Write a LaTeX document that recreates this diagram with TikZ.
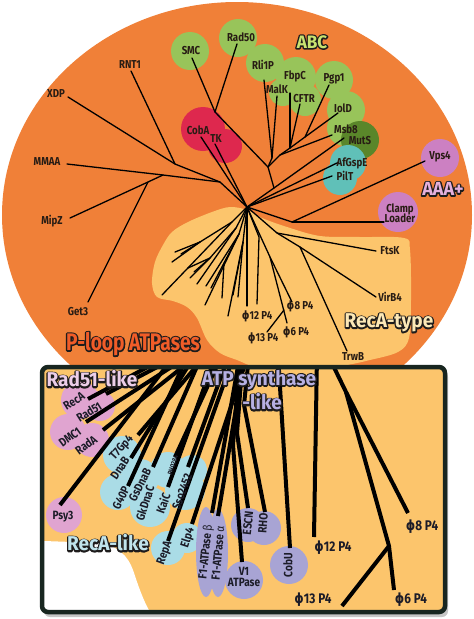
\documentclass[tikz,border=0pt]{standalone}
\usepackage{fontspec}
\setmainfont{Fira Sans}[FakeStretch=0.84]
\newfontfamily\titlef{Fira Sans}[FakeStretch=0.95]
\newfontfamily\titlec{Fira Sans}[FakeStretch=0.8]
\newfontfamily\phif{DejaVu Sans}[FakeStretch=0.85]
\definecolor{orng}{RGB}{240,128,56}
\definecolor{lor}{RGB}{252,197,108}
\definecolor{grn}{RGB}{152,196,90}
\definecolor{dgrn}{RGB}{90,134,42}
\definecolor{tealc}{RGB}{96,192,184}
\definecolor{redc}{RGB}{222,40,78}
\definecolor{pkc}{RGB}{204,128,194}
\definecolor{pkl}{RGB}{224,164,208}
\definecolor{blc}{RGB}{170,220,230}
\definecolor{lvc}{RGB}{168,164,212}
\definecolor{boxc}{RGB}{24,38,32}
\definecolor{txt}{RGB}{40,28,20}
\definecolor{txtb}{RGB}{28,28,40}
\definecolor{outc}{RGB}{30,28,28}
\definecolor{abcf}{RGB}{200,226,112}
\definecolor{aaaf}{RGB}{228,176,220}
\definecolor{recf}{RGB}{252,232,182}
\definecolor{plf}{RGB}{240,92,40}
\definecolor{radf}{RGB}{236,206,232}
\definecolor{atpf}{RGB}{182,176,226}
\definecolor{relf}{RGB}{192,228,236}
\tikzset{
  lab/.style={font=\bfseries\fontsize{11.5}{12}\selectfont, text=txt, inner sep=0.5pt},
  blab/.style={font=\bfseries\fontsize{12}{12}\selectfont, text=txtb, inner sep=0.5pt},
  plab/.style={font=\bfseries\fontsize{14}{14}\selectfont, text=txtb, inner sep=0.5pt},
  tl/.style={draw=black, line width=1.3pt, line cap=round, line join=round},
  thk/.style={draw=black, line width=4pt, line join=round},
}
\newcommand{\strkon}{\special{pdf:literal direct 1 Tr 2.8 w 1 j}}
\newcommand{\strkoff}{\special{pdf:literal direct 0 Tr}}
% name, position, fill, size, family, text
\newcommand{\ttl}[6]{%
  \node[font=#5\bfseries\fontsize{#4}{#4}\selectfont, text=outc, inner sep=0] at (#2) {\strkon#6\strkoff};
  \node[font=#5\bfseries\fontsize{#4}{#4}\selectfont, text=#3, inner sep=0] (#1) at (#2) {#6};
}
\begin{document}
\begin{tikzpicture}[x=1pt,y=-1pt]
\useasboundingbox (0,0) rectangle (474,619);
\fill[white] (0,0) rectangle (474,619);
% big orange disc
\fill[orng] (237,215) ellipse [x radius=235, y radius=213];
% RecA-type light region
\fill[lor] plot[smooth cycle, tension=0.55] coordinates {(230,207) (247,210) (262,218) (287,227) (320,236) (360,237) (404,238) (410,250) (411,300) (409,338) (398,352) (370,360) (340,366) (300,368) (260,368) (237,360) (220,353) (207,340) (197,318) (187,307) (173,301) (157,297) (152,283) (155,262) (163,245) (172,232) (188,222) (212,212)};
% coloured discs (upper)
\fill[grn] (190,51) circle[radius=19];
\fill[grn] (238,38) circle[radius=19];
\fill[grn] (265,63) circle[radius=19];
\fill[grn] (296,77) circle[radius=20];
\fill[grn] (283,92) circle[radius=14];
\fill[grn] (305,100) circle[radius=16];
\fill[grn] (334,80) circle[radius=19];
\fill[grn] (346,110) circle[radius=19];
\fill[grn] (345,128) circle[radius=18];
\fill[dgrn] (360,140) circle[radius=19];
\fill[tealc] (348,163) circle[radius=18];
\fill[tealc] (340,178) circle[radius=17];
\fill[redc] (203,129) circle[radius=22];
\fill[redc] (225,146) circle[radius=17];
\fill[pkc] (440,158) circle[radius=19];
\fill[pkc] (398,212) circle[radius=20];
% tree coordinates (upper)
\coordinate (O) at (247,207);
\coordinate (J1) at (220,182);
\coordinate (C) at (163,175);
\coordinate (Cg) at (148,182);
\coordinate (B) at (175,164);
\coordinate (S) at (215,112);
\coordinate (M) at (272,158);
\coordinate (G1) at (268,167);
\coordinate (G2) at (274,188);
\coordinate (N2) at (290,148);
\coordinate (N2b) at (280,155);
\coordinate (N3) at (305,137);
\coordinate (V) at (292,222);
\coordinate (F) at (277,233);
\coordinate (Q) at (300,247);
\coordinate (P) at (270,257);
\coordinate (PB) at (284,310);
\coordinate (K12) at (259,237);
\coordinate (H1) at (232,222);
\coordinate (H2) at (200,242);
\coordinate (H3) at (236,228);
\coordinate (H4) at (210,258);
\coordinate (H5) at (239,234);
\coordinate (H6) at (224,263);
\coordinate (H7) at (243,242);
\coordinate (eMMAA) at (67,164);
\coordinate (eMipZ) at (70,218);
\coordinate (eGet3) at (88,302);
\coordinate (eXDP) at (68,97);
\coordinate (eRNT1) at (131,71);
\coordinate (eCobA) at (201,137);
\coordinate (eTK) at (215,144);
\coordinate (eSMC) at (192,58);
\coordinate (eRad50) at (237,44);
\coordinate (eRli) at (264,80);
\coordinate (eMalK) at (277,96);
\coordinate (eFbpC) at (290,93);
\coordinate (eCFTR) at (300,104);
\coordinate (ePgp1) at (329,85);
\coordinate (eIolD) at (338,113);
\coordinate (eMsb8) at (332,135);
\coordinate (eMutS) at (344,138);
\coordinate (eAfG) at (339,162);
\coordinate (ePilT) at (332,176);
\coordinate (eVps4) at (425,161);
\coordinate (eClamp) at (384,222);
\coordinate (eFtsK) at (376,251);
\coordinate (eVirB4) at (376,297);
\coordinate (eTrwB) at (347,351);
\coordinate (ephi8) at (292,302);
\coordinate (ephi6) at (287,323);
\coordinate (ephi13) at (267,332);
\coordinate (ephi12a) at (247,306);
\coordinate (ephi12b) at (257,304);
\coordinate (e1) at (162,295);
\coordinate (e2) at (172,262);
\coordinate (e3) at (175,252);
\coordinate (e4) at (181,254);
\coordinate (e5) at (188,268);
\coordinate (e6) at (190,278);
\coordinate (e7) at (194,272);
\coordinate (e8) at (197,284);
\coordinate (e9) at (205,305);
\coordinate (e10) at (206,286);
\coordinate (e11) at (211,288);
\coordinate (e12) at (222,298);
\coordinate (e13) at (228,316);
\coordinate (e14) at (233,295);
\coordinate (e15) at (238,297);
% upper tree
\draw[tl] (O) -- (J1) -- (C) -- (eMMAA);
\draw[tl] (C) -- (Cg) -- (eMipZ);
\draw[tl] (Cg) -- (eGet3);
\draw[tl] (J1) -- (B) -- (eXDP);
\draw[tl] (B) -- (eRNT1);
\draw[tl] (O) -- (eCobA);
\draw[tl] (O) -- (eTK);
\draw[tl] (O) -- (G2) -- (G1) -- (S) -- (eSMC);
\draw[tl] (S) -- (eRad50);
\draw[tl] (G1) -- (M) -- (eRli);
\draw[tl] (M) -- (eMalK);
\draw[tl] (G1) -- (N2b) -- (N2) -- (N3) -- (ePgp1);
\draw[tl] (N3) -- (eIolD);
\draw[tl] (N2) -- (eFbpC);
\draw[tl] (N2) -- (eCFTR);
\draw[tl] (N2b) -- (eMsb8);
\draw[tl] (G2) -- (eMutS);
\draw[tl] (O) -- (eAfG);
\draw[tl] (O) -- (ePilT);
\draw[tl] (O) -- (V) -- (eVps4);
\draw[tl] (V) -- (eClamp);
\draw[tl] (O) -- (F) -- (eFtsK);
\draw[tl] (F) -- (Q) -- (eVirB4);
\draw[tl] (Q) -- (eTrwB);
\draw[tl] (O) -- (P) -- (ephi8);
\draw[tl] (P) -- (ephi6);
\draw[tl] (PB) -- (ephi13);
\draw[tl] (O) -- (ephi12a);
\draw[tl] (O) -- (K12) -- (ephi12b);
\draw[tl] (O) -- (H1) -- (e1);
\draw[tl] (H1) -- (H2) -- (e2);
\draw[tl] (H2) -- (e3);
\draw[tl] (H2) -- (e4);
\draw[tl] (O) -- (H3) -- (H4) -- (e5);
\draw[tl] (H4) -- (e6);
\draw[tl] (H4) -- (e7);
\draw[tl] (H3) -- (e8);
\draw[tl] (O) -- (H5) -- (e9);
\draw[tl] (H5) -- (e10);
\draw[tl] (H5) -- (H6) -- (e11);
\draw[tl] (H6) -- (e12);
\draw[tl] (O) -- (H7) -- (e13);
\draw[tl] (H7) -- (e14);
\draw[tl] (H7) -- (e15);
% upper labels
\node[lab] (lSMC) at (191,51) {SMC};
\node[lab] (lRad50) at (241,37) {Rad50};
\node[lab] (lRli) at (263,65) {Rli1P};
\node[lab] (lFbpC) at (295,76) {FbpC};
\node[lab] (lMalK) at (277,89) {MalK};
\node[lab] (lCFTR) at (304,99) {CFTR};
\node[lab] (lPgp1) at (334,79) {Pgp1};
\node[lab] (lIolD) at (343,108) {IolD};
\node[lab] (lMsb8) at (346,129) {Msb8};
\node[lab] (lMutS) at (360,141) {MutS};
\node[lab] (lAfG) at (352,163) {AfGspE};
\node[lab] (lPilT) at (345,176) {PilT};
\node[lab] (lVps4) at (440,157) {Vps4};
\node[lab] (lCobA) at (198,130) {CobA};
\node[lab] (lTK) at (216,139) {TK};
\node[lab, align=center] (lClamp) at (400,213) {Clamp\\[-2pt]Loader};
\node[lab] (lRNT1) at (130,65) {RNT1};
\node[lab] (lXDP) at (56,94) {XDP};
\node[lab] (lMMAA) at (47,162) {MMAA};
\node[lab] (lMipZ) at (52,221) {MipZ};
\node[lab] (lGet3) at (78,312) {Get3};
\node[lab] (lFtsK) at (390,251) {FtsK};
\node[lab] (lVirB4) at (390,297) {VirB4};
\node[lab] (lTrwB) at (353,357) {TrwB};
\node[lab] (lphi8) at (300,306) {{\phif ϕ}8 P4};
\node[lab] (lphi12) at (257,316) {{\phif ϕ}12 P4};
\node[lab] (lphi6) at (296,332) {{\phif ϕ}6 P4};
\node[lab] (lphi13) at (263,338) {{\phif ϕ}13 P4};
% upper titles
\ttl{tABC}{312,42}{abcf}{18}{\titlef}{ABC}
\ttl{tAAA}{443,189}{aaaf}{19}{\titlef}{AAA+}
\ttl{tRecT}{389,323}{recf}{20}{\titlef}{RecA-type}
\ttl{tPloop}{133,344}{plf}{24}{\titlec}{P-loop ATPases}
% ---------- lower zoom box ----------
\fill[gray!45, rounded corners=6pt] (44,371) rectangle (448,617);
\fill[lor, rounded corners=6pt] (42,367) rectangle (445,612);
\fill[white] (44,541) -- (100,543) .. controls (118,546) and (128,556) .. (133,570) .. controls (138,585) and (143,600) .. (150,612) -- (44,612) -- cycle;
% lower discs
\fill[pkl] (80,400) circle[radius=19];
\fill[pkl] (100,406) circle[radius=15];
\fill[pkl] (68,432) circle[radius=18];
\fill[pkl] (92,440) circle[radius=17];
\fill[pkl] (64,515) circle[radius=18];
\fill[blc] (122,455) circle[radius=19];
\fill[blc] (118,492) circle[radius=18];
\fill[blc] (140,478) circle[radius=19];
\fill[blc] (150,507) circle[radius=20];
\fill[blc] (168,470) circle[radius=18];
\fill[blc] (185,490) circle[radius=20];
\fill[blc] (192,470) circle[radius=15];
\fill[blc] (168,548) circle[radius=17];
\fill[blc] (187,538) circle[radius=15];
\fill[lvc] (206,552) ellipse [x radius=10, y radius=45];
\fill[lvc] (218,553) ellipse [x radius=10, y radius=44];
\fill[lvc] (248,525) circle[radius=17];
\fill[lvc] (264,528) circle[radius=17];
\fill[lvc] (244,580) circle[radius=19];
\fill[lvc] (289,565) circle[radius=19];
% lower tree coordinates
\coordinate (bp1) at (88,399);   \coordinate (tp1) at (170,355);
\coordinate (bp2) at (106,394);  \coordinate (tp2) at (180,355);
\coordinate (bp3) at (86,422);   \coordinate (tp3) at (190,355);
\coordinate (bp4) at (103,430);  \coordinate (tp4) at (198,355);
\coordinate (bpsy) at (60,505);  \coordinate (tpsy) at (175,355);
\coordinate (bT7) at (138,435);  \coordinate (tT7) at (206,355);
\coordinate (bDnaB) at (131,458); \coordinate (tDnaB) at (195,355);
\coordinate (bGs) at (128,486);  \coordinate (tGs) at (188,355);
\coordinate (bGk) at (153,467);  \coordinate (tGk) at (202,355);
\coordinate (bKai) at (168,487); \coordinate (tKai) at (216,355);
\coordinate (bPH) at (175,457);  \coordinate (tPH) at (222,355);
\coordinate (bSso) at (188,467); \coordinate (tSso) at (229,355);
\coordinate (bRep) at (168,541); \coordinate (tRep) at (234,355);
\coordinate (bElp) at (192,524); \coordinate (tElp) at (248,355);
\coordinate (bF1b) at (212,513); \coordinate (tF1b) at (240,355);
\coordinate (bF1a) at (218,516); \coordinate (tF1a) at (245,355);
\coordinate (bV1) at (242,562);  \coordinate (mV1) at (233,445); \coordinate (tV1) at (240,355);
\coordinate (bES) at (248,508);  \coordinate (mES) at (237,433); \coordinate (tES) at (243,355);
\coordinate (bRHO) at (265,512); \coordinate (mRHO) at (244,405); \coordinate (tRHO) at (249,355);
\coordinate (bCobU) at (290,548); \coordinate (tCobU) at (278,355);
\coordinate (bp12) at (314,537); \coordinate (tp12) at (317,355);
\coordinate (tphi) at (328,355);
\coordinate (A) at (346,392);
\coordinate (Bn) at (389,546);
\coordinate (bp8) at (408,513);
\coordinate (bp6) at (394,590);
\coordinate (bp13) at (342,606);
\begin{scope}
\clip (42,367) rectangle (445,612);
\draw[thk] (bp1) -- (tp1);
\draw[thk] (bp2) -- (tp2);
\draw[thk] (bp3) -- (tp3);
\draw[thk] (bp4) -- (tp4);
\draw[thk] (bpsy) -- (tpsy);
\draw[thk] (bT7) -- (tT7);
\draw[thk] (bDnaB) -- (tDnaB);
\draw[thk] (bGs) -- (tGs);
\draw[thk] (bGk) -- (tGk);
\draw[thk] (bKai) -- (tKai);
\draw[thk] (bPH) -- (tPH);
\draw[thk] (bSso) -- (tSso);
\draw[thk] (bRep) -- (tRep);
\draw[thk] (bElp) -- (tElp);
\draw[thk] (bF1b) -- (tF1b);
\draw[thk] (bF1a) -- (tF1a);
\draw[thk] (bV1) -- (mV1) -- (tV1);
\draw[thk] (bES) -- (mES) -- (tES);
\draw[thk] (bRHO) -- (mRHO) -- (tRHO);
\draw[thk] (bCobU) -- (tCobU);
\draw[thk] (bp12) -- (tp12);
\draw[thk] (tphi) -- (A) -- (bp8);
\draw[thk] (A) -- (Bn) -- (bp6);
\draw[thk] (Bn) -- (bp13);
\end{scope}
% lower labels
\node[blab, rotate=32] (lRecA) at (74,401) {RecA};
\node[blab, rotate=32] (lRad51) at (89,412) {Rad51};
\node[blab, rotate=36] (lDMC1) at (70,437) {DMC1};
\node[blab, rotate=36] (lRadA) at (86,445) {RadA};
\node[blab] (lPsy3) at (63,517) {Psy3};
\node[blab, rotate=48] (lT7) at (122,448) {T7Gp4};
\node[blab, rotate=56] (lDnaB) at (120,468) {DnaB};
\node[blab, rotate=64] (lG40P) at (121,498) {G40P};
\node[blab, rotate=63] (lGs) at (140,485) {GsDnaB};
\node[blab, rotate=72] (lGk) at (145,503) {GkDnaC};
\node[blab, rotate=70] (lKai) at (163,503) {KaiC};
\node[blab, rotate=72, font=\bfseries\fontsize{7}{7}\selectfont] (lPH) at (173,465) {PH0284};
\node[blab, rotate=70] (lSso) at (182,492) {Sso2452};
\node[blab, rotate=70] (lRep) at (165,553) {RepA};
\node[blab, rotate=72] (lElp) at (188,538) {Elp4};
\node[blab, rotate=84] (lF1b) at (206,552) {F1-ATPase {\mdseries β}};
\node[blab, rotate=85] (lF1a) at (218,553) {F1-ATPase {\mdseries α}};
\node[blab, rotate=84] (lES) at (248,523) {ESCN};
\node[blab, rotate=86] (lRHO) at (263,523) {RHO};
\node[blab, align=center] (lV1) at (244,577) {V1\\[-1pt]ATPase};
\node[blab, rotate=90] (lCobU) at (288,565) {CobU};
\node[plab] (lp8) at (422,527) {{\phif ϕ}8 P4};
\node[plab] (lp12) at (333,548) {{\phif ϕ}12 P4};
\node[plab] (lp13) at (313,600) {{\phif ϕ}13 P4};
\node[plab] (lp6) at (411,600) {{\phif ϕ}6 P4};
% box frame
\draw[boxc, line width=4.5pt, rounded corners=6pt] (42,367) rectangle (445,612);
% lower titles
\ttl{tRad}{92,379}{radf}{20}{\titlef}{Rad51-like}
\ttl{tATP}{259,380}{atpf}{20}{\titlef}{ATP synthase}
\ttl{tATPl}{262,402}{atpf}{20}{\titlef}{-like}
\ttl{tRecL}{108,543}{relf}{20}{\titlef}{RecA-like}
\end{tikzpicture}
\end{document}
